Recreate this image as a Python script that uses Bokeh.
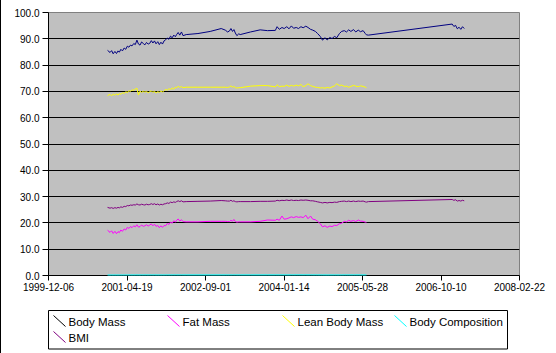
import pandas as pd
from bokeh.plotting import figure
from bokeh.models import (Range1d, FixedTicker, DatetimeTickFormatter,
                          NumeralTickFormatter, ColumnDataSource)
from bokeh.layouts import column
from bokeh.embed import file_html
from bokeh.resources import INLINE
from bokeh.core.properties import value

# ---------------- data ----------------
common_dates = [
    "2000-12-16", "2001-01-01", "2001-01-11", "2001-01-21", "2001-02-01", "2001-02-11", "2001-02-21",
    "2001-03-01", "2001-03-11", "2001-03-21", "2001-04-01", "2001-04-11", "2001-04-21", "2001-05-01",
    "2001-05-11", "2001-05-21", "2001-06-01", "2001-06-11", "2001-06-21", "2001-07-01", "2001-07-11",
    "2001-07-21", "2001-08-01", "2001-08-11", "2001-08-21", "2001-09-01", "2001-09-11", "2001-09-21",
    "2001-10-01", "2001-10-11", "2001-10-21", "2001-11-01", "2001-11-11", "2001-11-21", "2001-12-01",
    "2001-12-11", "2001-12-21", "2002-01-01", "2002-01-11", "2002-01-21", "2002-02-01", "2002-02-11",
    "2002-02-21", "2002-03-01", "2002-03-11", "2002-03-21", "2002-04-01", "2002-04-11",
    "2002-05-01", "2002-07-15", "2002-10-01", "2002-12-10", "2003-01-05", "2003-01-20",
    "2003-02-01", "2003-02-10", "2003-02-20", "2003-03-01", "2003-03-10", "2003-03-20", "2003-04-01", "2003-04-10",
    "2003-06-15", "2003-08-15", "2003-10-01", "2003-11-20",
    "2003-12-01", "2003-12-15", "2004-01-01", "2004-01-15", "2004-02-01", "2004-02-15", "2004-03-01",
    "2004-03-15", "2004-04-01", "2004-04-15", "2004-05-01", "2004-05-15", "2004-06-01", "2004-06-15",
    "2004-07-01", "2004-07-15", "2004-08-01", "2004-08-15", "2004-09-01", "2004-09-15", "2004-10-01",
    "2004-10-15", "2004-11-01", "2004-11-15", "2004-12-01", "2004-12-15", "2005-01-01", "2005-01-15",
    "2005-02-01", "2005-02-15", "2005-03-01", "2005-03-15", "2005-04-01", "2005-04-15", "2005-05-01",
    "2005-05-15", "2005-06-01", "2005-06-15", "2005-06-22",
]
late_dates = ["2005-07-05", "2006-12-20", "2006-12-31", "2007-01-11", "2007-01-22",
              "2007-02-02", "2007-02-13", "2007-02-24", "2007-03-07"]

body_mass = [
    85.6, 84.8, 85.5, 84.3, 85.2, 84.4, 85.4, 84.9, 86.0, 85.4,
    86.5, 86.0, 87.2, 86.8, 87.6, 87.3, 88.2, 87.8, 89.5, 88.0,
    87.6, 88.8, 88.2, 87.7, 88.6, 88.0, 88.3, 89.3, 88.4, 89.2,
    88.1, 88.9, 87.8, 88.7, 88.0, 89.2, 89.6, 90.3, 89.8, 91.0,
    90.4, 91.4, 90.8, 91.6, 92.4, 91.4, 92.6, 91.2,
    91.6, 92.0, 92.8, 93.9, 93.3, 92.6,
    93.0, 93.9, 92.8, 93.5, 92.2, 91.2, 91.9, 91.6,
    92.6, 93.4, 93.1, 93.2,
    94.6, 93.6, 94.3, 93.9, 94.6, 93.8, 94.9, 94.0, 94.3, 93.9,
    94.6, 94.2, 94.8, 94.3, 93.6, 93.3, 92.8, 92.0, 90.9, 89.5,
    90.4, 89.6, 90.5, 90.1, 90.9, 90.4, 92.0, 92.8, 93.1, 92.6,
    93.4, 92.8, 93.5, 92.6, 93.3, 92.7, 93.1, 92.0, 91.5,
    91.4, 95.6, 94.7, 95.1, 93.8, 94.4, 93.6, 94.6, 93.9,
]
fat_mass = [
    17.2, 16.4, 17.0, 16.0, 16.8, 15.9, 16.7, 16.3, 17.3, 16.8,
    17.7, 17.3, 18.3, 17.9, 18.6, 18.2, 18.9, 18.5, 19.3, 18.4,
    18.6, 19.2, 18.7, 18.9, 19.3, 18.8, 19.2, 19.6, 18.9, 19.5,
    18.7, 19.0, 18.2, 18.9, 18.3, 19.0, 18.9, 19.8, 19.4, 20.3,
    19.9, 20.8, 20.3, 21.0, 21.5, 20.7, 21.2, 20.5,
    20.4, 20.4, 20.6, 20.6, 20.6, 20.5,
    20.5, 21.0, 20.6, 21.3, 20.5, 20.3, 20.4, 20.4,
    20.4, 20.6, 21.1, 21.0,
    21.4, 21.0, 22.6, 21.4, 21.6, 21.9, 22.3, 22.0, 22.4, 22.1,
    22.3, 22.0, 22.9, 21.6, 22.6, 21.4, 21.2, 20.6, 19.7, 18.5,
    18.9, 18.3, 18.8, 18.6, 19.1, 19.0, 19.7, 19.9, 20.6, 20.4,
    21.0, 20.6, 20.9, 20.5, 21.1, 20.7, 20.6, 20.3, 20.1,
]
lean_mass = [
    68.4, 68.9, 68.3, 69.0, 68.5, 69.1, 68.6, 69.2, 68.9, 69.5,
    69.2, 69.9, 69.5, 70.3, 70.0, 70.6, 70.4, 70.9, 71.2, 68.6,
    70.1, 69.6, 70.1, 69.7, 70.0, 69.5, 69.9, 70.2, 69.6, 70.1,
    69.4, 69.9, 69.6, 70.2, 69.7, 70.3, 70.7, 70.5, 71.0, 70.7,
    71.3, 70.8, 71.6, 71.3, 72.0, 71.5, 71.8, 71.4,
    71.6, 71.6, 71.6, 71.6, 71.6, 71.5,
    71.7, 72.1, 71.6, 71.9, 71.4, 71.3, 71.4, 71.4,
    72.0, 72.2, 72.2, 71.7,
    72.5, 71.8, 72.0, 71.9, 72.4, 71.9, 72.3, 72.0, 72.4, 72.1,
    72.6, 71.8, 72.2, 72.9, 72.2, 71.9, 71.6, 71.5, 71.3, 71.4,
    71.2, 71.5, 71.3, 71.7, 72.1, 72.9, 72.2, 72.4, 71.9, 72.0,
    71.6, 71.9, 72.3, 72.0, 71.8, 72.1, 71.9, 71.6, 71.4,
]
body_composition = [
    0.20, 0.19, 0.20, 0.19, 0.20, 0.19, 0.20, 0.19, 0.20, 0.20,
    0.20, 0.20, 0.21, 0.21, 0.21, 0.21, 0.21, 0.21, 0.22, 0.21,
    0.21, 0.22, 0.21, 0.22, 0.22, 0.21, 0.22, 0.22, 0.21, 0.22,
    0.21, 0.21, 0.21, 0.21, 0.21, 0.21, 0.21, 0.22, 0.22, 0.22,
    0.22, 0.23, 0.22, 0.23, 0.23, 0.23, 0.23, 0.22,
    0.22, 0.22, 0.22, 0.22, 0.22, 0.22,
    0.22, 0.22, 0.22, 0.23, 0.22, 0.22, 0.22, 0.22,
    0.22, 0.22, 0.23, 0.23,
    0.23, 0.22, 0.24, 0.23, 0.23, 0.23, 0.24, 0.23, 0.24, 0.24,
    0.24, 0.23, 0.24, 0.23, 0.24, 0.23, 0.23, 0.22, 0.22, 0.21,
    0.21, 0.20, 0.21, 0.21, 0.21, 0.21, 0.21, 0.21, 0.22, 0.22,
    0.22, 0.22, 0.22, 0.22, 0.23, 0.22, 0.22, 0.22, 0.22,
]
bmi = [
    25.9, 25.6, 25.8, 25.5, 25.8, 25.6, 25.9, 25.7, 26.1, 25.9,
    26.3, 26.2, 26.6, 26.5, 26.8, 26.7, 26.9, 26.8, 27.2, 26.9,
    26.8, 27.1, 26.9, 26.8, 27.1, 26.9, 27.0, 27.3, 27.0, 27.3,
    26.9, 27.2, 26.8, 27.1, 26.9, 27.2, 27.3, 27.6, 27.4, 27.9,
    27.7, 28.0, 27.8, 28.1, 28.4, 28.1, 28.4, 28.0,
    28.1, 28.2, 28.3, 28.5, 28.4, 28.3,
    28.3, 28.6, 28.2, 28.4, 28.1, 28.0, 28.1, 28.1,
    28.1, 28.2, 28.2, 28.3,
    28.6, 28.4, 28.6, 28.5, 28.7, 28.5, 28.7, 28.5, 28.6, 28.5,
    28.7, 28.6, 28.7, 28.6, 28.4, 28.4, 28.2, 28.0, 27.8, 27.6,
    27.8, 27.6, 27.8, 27.7, 27.9, 27.8, 28.1, 28.2, 28.3, 28.1,
    28.3, 28.1, 28.3, 28.1, 28.3, 28.2, 28.3, 28.0, 27.9,
    28.1, 28.9, 28.6, 28.8, 28.3, 28.5, 28.3, 28.6, 28.4,
]

x_tick_labels = ["1999-12-06", "2001-04-19", "2002-09-01", "2004-01-14",
                 "2005-05-28", "2006-10-10", "2008-02-22"]
y_ticks = [0, 10, 20, 30, 40, 50, 60, 70, 80, 90, 100]

series_names = ["Body Mass", "Fat Mass", "Lean Body Mass", "Body Composition", "BMI"]
series_colors = ["#000080", "#FF00FF", "#FFFF00", "#00FFFF", "#800080"]
legend_glyph_colors = ["#000000", "#FF00FF", "#FFFF00", "#00FFFF", "#800080"]

# ---------------- main plot ----------------
FONT = "Liberation Sans"
all_dates = pd.to_datetime(common_dates + late_dates)
cmn = pd.to_datetime(common_dates)
series_x = [all_dates, cmn, cmn, cmn, all_dates]
series_y = [body_mass, fat_mass, lean_mass, body_composition, bmi]

tick_ms = [pd.Timestamp(t).value // 10**6 for t in x_tick_labels]

p = figure(width=555, height=300, x_axis_type="datetime",
           x_range=Range1d(tick_ms[0], tick_ms[-1]), y_range=Range1d(0, 100),
           output_backend="svg", toolbar_location=None,
           min_border_left=47, min_border_right=37, min_border_top=12, min_border_bottom=25)
p.background_fill_color = "#C0C0C0"
p.border_fill_color = "white"
p.outline_line_color = "#808080"

p.xgrid.visible = False
p.ygrid.ticker = FixedTicker(ticks=y_ticks)
p.ygrid.grid_line_color = "black"
p.ygrid.grid_line_width = 1

p.xaxis.ticker = FixedTicker(ticks=tick_ms)
p.xaxis.formatter = DatetimeTickFormatter(
    milliseconds="%Y-%m-%d", seconds="%Y-%m-%d", minsec="%Y-%m-%d", minutes="%Y-%m-%d",
    hourmin="%Y-%m-%d", hours="%Y-%m-%d", days="%Y-%m-%d", months="%Y-%m-%d", years="%Y-%m-%d")
p.yaxis.ticker = FixedTicker(ticks=y_ticks)
p.yaxis.formatter = NumeralTickFormatter(format="0.0")

for ax in (p.xaxis[0], p.yaxis[0]):
    ax.axis_line_color = "black"
    ax.major_tick_line_color = "black"
    ax.major_tick_in = 0
    ax.minor_tick_line_color = None
    ax.major_label_text_font = FONT
    ax.major_label_text_font_size = "10px"
    ax.major_label_text_color = "black"
p.xaxis.major_tick_out = 5
p.xaxis.major_label_standoff = 2
p.yaxis.major_tick_out = 6
p.yaxis.major_label_standoff = 3

for name, color, xs, ys in zip(series_names, series_colors, series_x, series_y):
    src = ColumnDataSource(dict(x=xs, y=ys))
    r = p.line("x", "y", source=src, line_color=color, line_width=1)
    if name == "Body Composition":
        r.level = "overlay"

# ---------------- legend (Excel-style box below) ----------------
leg = figure(frame_width=555, frame_height=53, x_range=Range1d(1, 556), y_range=Range1d(53, 0),
             output_backend="svg", toolbar_location=None,
             x_axis_location=None, y_axis_location=None,
             min_border_left=0, min_border_right=0, min_border_top=0, min_border_bottom=0)
for fig in (p, leg):
    if "frame_align" in fig.properties():
        fig.frame_align = False
leg.grid.visible = False
leg.outline_line_color = None
leg.background_fill_color = "white"
leg.border_fill_color = "white"

leg.quad(left=48, right=507, top=10, bottom=48.5, fill_color=None, line_color="black", line_width=1)

col_x = [53, 167, 282, 394]
row_y = [21, 37]
gx0, gx1, gy0, gy1, tx, ty = [], [], [], [], [], []
for i, name in enumerate(series_names):
    cx = col_x[i % 4]
    cy = row_y[i // 4]
    gx0.append(cx); gx1.append(cx + 12)
    gy0.append(cy - 6); gy1.append(cy + 5)
    tx.append(cx + 15); ty.append(cy)
leg.segment(x0=gx0, y0=gy0, x1=gx1, y1=gy1, line_color=legend_glyph_colors, line_width=1)
leg.text(x=tx, y=ty, text=series_names, text_baseline="middle", text_align="left",
         text_font=value(FONT), text_font_size="11.5px", text_color="black")

layout = column(p, leg, spacing=0, styles={"border-left": "1px solid black"})

open("out.html", "w").write(file_html(layout, INLINE))
